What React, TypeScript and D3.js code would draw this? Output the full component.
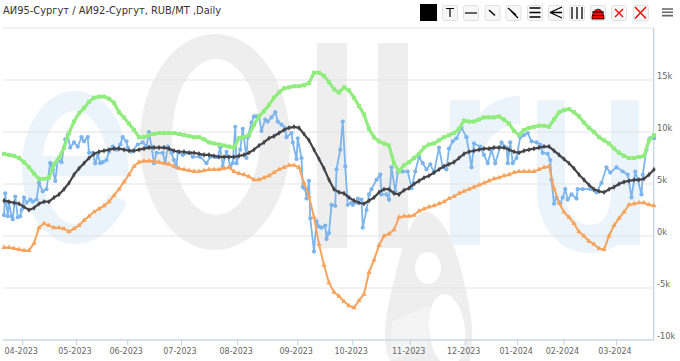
import React from "react";
import * as d3 from "d3";

const TITLE = "АИ95-Сургут / АИ92-Сургут, RUB/MT ,Daily";
const tickSessions = [15, 58, 99, 142, 187, 235, 279, 325, 369, 411, 448, 490];
const tickLabels = ["04-2023","05-2023","06-2023","07-2023","08-2023","09-2023","10-2023","11-2023","12-2023","01-2024","02-2024","03-2024"];
const yTicks = [-10, -5, 0, 5, 10, 15, 20];
const yLabelled = [-10, -5, 0, 5, 10, 15];

// smooth series: one reading every 4 sessions
const greenValues = [7.9,7.8,7.7,7.5,7.1,6.6,6.0,5.5,5.5,5.6,6.9,7.5,8.5,9.9,11.0,11.8,12.3,12.9,13.3,13.4,13.4,13.2,12.8,11.9,11.4,10.8,10.2,9.5,9.5,9.7,9.8,9.9,9.9,9.9,9.9,9.8,9.7,9.6,9.5,9.5,9.3,9.0,8.9,8.8,8.7,8.6,8.5,9.4,9.5,9.7,10.7,11.5,12.0,12.6,13.3,13.8,14.2,14.3,14.4,14.4,14.5,14.7,15.7,15.7,15.4,14.8,14.1,13.8,14.3,14.0,13.3,12.5,11.7,10.3,9.5,9.1,8.9,8.7,7.0,6.2,6.8,7.1,7.5,7.9,8.5,8.8,8.9,9.2,9.5,9.7,9.9,10.3,11.1,11.0,11.0,11.2,11.4,11.4,11.4,11.5,11.2,10.8,10.1,9.7,10.2,10.4,10.5,10.6,10.6,10.5,11.2,11.9,12.1,12.2,11.9,11.5,10.9,10.4,10.0,9.5,9.2,8.9,8.4,8.0,7.7,7.5,7.5,7.6,7.7,9.2,9.7];
const orangeValues = [-1.1,-1.1,-1.2,-1.3,-1.4,-1.4,-0.7,0.8,1.2,1.0,0.8,0.8,0.7,0.4,0.7,1.0,1.5,1.9,2.3,2.6,2.9,3.3,3.9,4.5,5.2,5.9,6.7,7.1,7.2,7.2,7.2,7.1,7.0,6.9,6.7,6.5,6.4,6.3,6.2,6.2,6.3,6.4,6.4,6.4,6.5,6.6,6.2,6.0,5.9,5.7,5.4,5.4,5.6,5.8,6.1,6.4,6.6,6.8,6.8,6.6,5.1,3.8,1.8,-0.8,-2.8,-4.5,-5.4,-5.8,-6.3,-6.7,-6.9,-6.2,-5.6,-3.5,-2.3,-0.9,0.0,0.2,0.6,1.8,1.9,1.9,2.0,2.4,2.6,2.8,2.9,3.1,3.3,3.6,3.8,4.1,4.3,4.5,4.7,4.9,5.1,5.3,5.5,5.6,5.8,5.9,6.1,6.2,6.2,6.2,6.2,6.4,6.6,6.7,4.6,3.2,2.3,1.8,1.2,0.4,0.0,-0.5,-0.8,-1.2,-1.3,0.0,1.0,1.7,2.3,3.0,3.1,3.2,3.2,3.0,2.9];
const blackValues = [3.4,3.3,3.2,3.1,2.8,2.5,2.7,3.1,3.3,3.3,3.7,4.0,4.5,5.1,5.9,6.5,7.0,7.5,7.9,8.1,8.2,8.3,8.4,8.4,8.3,8.2,8.2,8.3,8.4,8.5,8.5,8.5,8.5,8.4,8.2,8.1,8.1,8.0,8.0,7.9,7.8,7.8,7.7,7.6,7.6,7.6,7.6,7.7,7.8,8.0,8.3,8.7,9.0,9.4,9.6,9.9,10.2,10.4,10.5,10.4,9.8,9.2,8.3,7.4,6.5,5.4,4.5,4.2,4.1,3.7,3.4,3.2,3.1,3.4,3.7,4.2,4.5,4.5,4.1,4.0,4.4,4.6,5.0,5.3,5.6,5.8,6.1,6.4,6.7,6.9,7.1,7.5,7.9,8.1,8.2,8.3,8.4,8.4,8.5,8.5,8.5,8.3,8.1,8.0,8.2,8.3,8.4,8.5,8.6,8.6,8.2,7.8,7.4,7.0,6.5,5.9,5.4,4.9,4.5,4.3,4.2,4.5,4.7,5.0,5.2,5.3,5.4,5.4,5.5,5.9,6.4];

// jagged series: sessions and their values
const blueSessions = [0,1,3,4,6,7,9,11,13,14,16,18,21,23,26,28,31,34,37,39,41,43,46,49,51,53,56,59,62,64,67,68,71,73,75,77,79,82,84,87,90,93,95,98,99,102,107,111,114,116,118,120,122,127,129,131,134,136,138,139,143,149,151,157,162,165,169,171,173,175,178,181,183,185,186,189,191,194,195,198,200,202,204,206,209,211,214,217,219,222,225,226,230,231,234,235,238,239,241,242,244,245,248,250,252,254,257,258,260,262,265,266,269,271,273,275,278,279,282,283,286,287,290,292,294,298,301,302,306,308,310,313,315,319,323,326,329,332,335,338,341,344,348,351,354,356,359,362,366,370,374,376,381,384,387,390,393,398,402,403,405,407,410,413,416,419,422,426,429,431,435,437,438,440,442,445,447,449,451,454,458,459,463,469,474,478,482,485,490,495,499,502,505,507,510,511,514,517,520];
const blueValues = [2.0,4.1,1.9,3.2,1.9,1.6,3.8,1.8,1.9,2.5,3.7,3.2,3.5,3.3,3.5,5.1,4.3,4.5,7.0,6.4,5.3,7.3,7.1,9.3,9.7,8.5,9.0,8.6,9.5,9.1,9.5,8.0,8.0,7.0,7.8,7.0,7.1,7.3,8.1,8.6,8.3,8.8,9.5,9.1,8.5,8.1,8.8,9.0,8.6,10.0,8.6,7.0,8.0,8.0,7.0,8.6,8.0,7.3,6.6,8.1,7.8,8.0,7.6,7.6,7.0,7.6,7.6,7.6,8.5,6.7,8.1,6.7,7.0,10.5,7.0,8.3,10.3,7.5,9.5,10.9,11.5,11.5,11.5,10.1,11.2,11.0,11.4,11.9,11.0,10.7,10.4,9.5,9.9,9.0,7.4,9.4,7.5,4.7,4.5,3.6,5.3,1.7,-1.5,1.4,0.9,0.8,1.0,-0.3,0.3,3.0,2.9,6.4,8.3,11.0,6.7,3.0,3.2,3.0,3.2,3.6,3.5,0.8,2.5,4.0,4.5,5.4,5.9,4.0,4.0,3.5,6.6,4.3,6.1,6.2,6.2,4.6,6.2,7.6,7.0,6.4,6.9,6.1,8.5,6.6,6.4,8.4,9.1,9.4,10.4,9.5,6.6,8.9,8.6,7.8,7.0,8.3,7.0,9.0,8.5,7.0,9.0,7.0,7.5,9.5,9.7,9.9,9.1,9.0,8.8,8.0,7.9,7.3,5.4,3.1,3.7,3.1,3.7,4.5,3.5,4.0,3.6,4.5,4.5,4.5,4.2,5.1,6.6,6.1,6.6,6.2,5.9,3.7,6.2,5.4,4.0,5.9,8.3,9.4,9.4];

const W = 680, H = 361;
const x = d3.scaleLinear().domain([0, 520]).range([4, 654]);
const y = d3.scaleLinear().domain([-10, 20]).range([340, 28]);
const STEP = 4;

type P = [number, number];
const smooth = (vals: number[]): P[] => vals.map((v, i) => [i * STEP, v]);
const blue: P[] = blueSessions.map((s, i) => [s, blueValues[i]]);
const lineGen = d3.line<P>().x(d => x(d[0])).y(d => y(d[1]));

const WM_BLUE = "#ebf3fb";
const WM_GREY = "#eeeeee";

function Watermark() {
  return (
    <g>
      <path d="M32 166 H118 A43 66 0 1 0 32 168 A43 66 0 0 0 75 234 C 92 234 108 220 118 198" fill="none" stroke={WM_BLUE} strokeWidth={20} />
      <path fillRule="evenodd" fill={WM_GREY} d="M140 142 A75 108 0 1 1 290 142 A75 108 0 1 1 140 142 Z M172 137 A44 78 0 1 0 260 137 A44 78 0 1 0 172 137 Z" />
      <rect x={317} y={43} width={30} height={205} fill={WM_GREY} />
      <rect x={378} y={43} width={30} height={205} fill={WM_GREY} />
      <rect x={450} y={100} width={30} height={145} fill={WM_BLUE} />
      <path d="M470 130 C 480 106 500 96 520 96 L520 124 C 500 124 485 140 478 160 Z" fill={WM_BLUE} />
      <path d="M551 100 V190 C 551 225 572 239 590 239 C 610 239 625 225 625 190 V100" fill="none" stroke={WM_BLUE} strokeWidth={28} />
      <rect x={611} y={180} width={29} height={65} fill={WM_BLUE} />
      <path fill={WM_GREY} d="M425 212 C 415 212 405 235 398 265 C 390 295 384 320 385 340 C 386 350 388 356 391 361 L470 361 C 473 345 473 330 470 312 C 465 280 450 212 425 212 Z" />
      <ellipse cx={428} cy={268} rx={13} ry={16} fill="#fff" />
      <path d="M392 322 L430 305 L428 345 L390 361 Z" fill="#f4f4f4" />
      <ellipse cx={447} cy={330} rx={18} ry={36} transform="rotate(-6 447 330)" fill="#fff" />
    </g>
  );
}

const btnX = [442, 463, 484.5, 505.5, 527, 548, 569, 590, 611, 633];

function Toolbar() {
  const btn = (bx: number, i: number) => (
    <rect key={i} x={bx + 0.5} y={5.5} width={15} height={15} rx={2} fill="#f7f7f7" stroke="#e0e0e0" />
  );
  const k = { stroke: "#000", fill: "none" } as const;
  const red = { stroke: "#f00", fill: "none", strokeWidth: 1.4 } as const;
  return (
    <g>
      <rect x={420} y={4} width={17} height={17} fill="#000" />
      {btnX.map(btn)}
      <path d="M446 8.5 H454 M450 8.5 V17" {...k} strokeWidth={1.2} />
      <path d="M465 13 H477" {...k} strokeWidth={1.2} />
      <path d="M489 10 L495 15.5" {...k} strokeWidth={1.4} />
      <path d="M508 8 L516 15 M511 11 L518 18" {...k} strokeWidth={1.3} />
      <path d="M529.5 8 H540.5 M529.5 12.5 H540.5 M529.5 17 H540.5" {...k} strokeWidth={1.3} />
      <path d="M562 7 L550 12.5 L562 12.5 M550 12.5 L562 18" {...k} strokeWidth={1.3} />
      <path d="M572 7 V19 M577 7 V19 M582 7 V19" {...k} strokeWidth={1.3} />
      <path d="M592 19 C 592 6 604 6 604 19 Z" fill="#f00" stroke="#000" strokeWidth={0.8} />
      <path d="M592 12 H604 M592 15.5 H604" stroke="#000" strokeWidth={1.1} />
      <path d="M615 9 L623 17 M623 9 L615 17" {...red} />
      <path d="M635 7 L646 18.5 M646 7 L635 18.5" {...red} />
      <path d="M662 9 H673 M662 12.3 H673 M662 15.6 H673" stroke="#666" strokeWidth={1.6} fill="none" />
    </g>
  );
}

export default function App() {
  const tri = d3.symbol().type(d3.symbolTriangle).size(12)()!;
  const dia = d3.symbol().type(d3.symbolDiamond).size(9)()!;
  return (
    <svg width={W} height={H} style={{ position: "absolute", left: 0, top: 0, background: "#fff" }}>
      <Watermark />
      <text x={3} y={13.5} fontFamily="'DejaVu Sans', sans-serif" fontSize={9.9} fill="#333">{TITLE}</text>
      <Toolbar />
      {yTicks.map(t => (
        <line key={t} x1={3} x2={654} y1={y(t)} y2={y(t)} stroke="#e3e3e3" strokeWidth={1} />
      ))}
      <line x1={653.7} x2={653.7} y1={28} y2={340} stroke="#c0d0e0" strokeWidth={1.2} />
      <line x1={3} x2={654} y1={340} y2={340} stroke="#c0d0e0" strokeWidth={1.2} />
      {tickSessions.map((s, i) => (
        <g key={s}>
          <line x1={x(s)} x2={x(s)} y1={340} y2={345} stroke="#c0d0e0" />
          <text x={x(s) - 1.5} y={353.5} textAnchor="middle" fontFamily="'DejaVu Sans', sans-serif" fontSize={8} fill="#666">{tickLabels[i]}</text>
        </g>
      ))}
      {yLabelled.map(t => (
        <text key={t} x={657} y={y(t) - 1} fontFamily="'DejaVu Sans', sans-serif" fontSize={8.3} fill="#666">{`${t}k`}</text>
      ))}
      <path d={lineGen(blue)!} fill="none" stroke="#7cb5ec" strokeWidth={1.8} />
      {blue.map((d, i) => <circle key={i} cx={x(d[0])} cy={y(d[1])} r={2.1} fill="#7cb5ec" />)}
      <path d={lineGen(smooth(blackValues))!} fill="none" stroke="#434348" strokeWidth={2.2} />
      {smooth(blackValues).map((d, i) => <path key={i} d={dia} transform={`translate(${x(d[0])},${y(d[1])})`} fill="#434348" />)}
      <path d={lineGen(smooth(greenValues))!} fill="none" stroke="#90ed7d" strokeWidth={3.2} />
      {smooth(greenValues).map((d, i) => <rect key={i} x={x(d[0]) - 2} y={y(d[1]) - 2} width={4} height={4} fill="#90ed7d" />)}
      <path d={lineGen(smooth(orangeValues))!} fill="none" stroke="#f7a35c" strokeWidth={2} />
      {smooth(orangeValues).map((d, i) => <path key={i} d={tri} transform={`translate(${x(d[0])},${y(d[1])})`} fill="#f7a35c" />)}
    </svg>
  );
}
